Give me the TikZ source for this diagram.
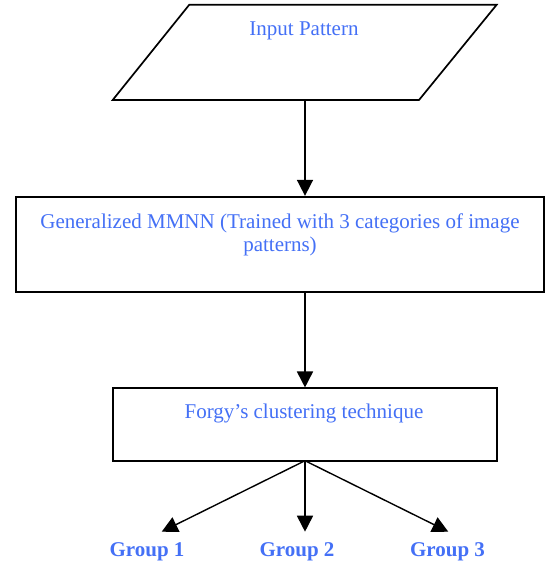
\documentclass[tikz,border=0pt]{standalone}
\usepackage{fontspec}
\setmainfont{Liberation Serif}
\usetikzlibrary{arrows.meta}
\definecolor{txtblue}{RGB}{68,112,246}
\tikzset{
  box/.style={draw=black, line width=1.7pt, fill=white, inner sep=0pt},
  lbl/.style={text=txtblue, font=\fontsize{21}{23.5}\selectfont, inner sep=0pt, anchor=base, align=center},
  glbl/.style={text=txtblue, font=\fontsize{21}{24}\selectfont\bfseries, inner sep=0pt, anchor=base},
  flow/.style={draw=black, line width=1.7pt, -{Triangle[length=16pt,width=16pt]}},
  split/.style={draw=black, line width=1.4pt, -{Triangle[length=16pt,width=16pt]}}
}
\begin{document}
\begin{tikzpicture}[x=1pt,y=-1pt]
\useasboundingbox (0,0) rectangle (547,566);
% Input parallelogram
\draw[line width=1.7pt] (189.3,4.7) -- (496.7,4.7) -- (419,100) -- (112.7,100) -- cycle;
\node[lbl] (input) at (304,35) {Input Pattern};
\coordinate (inbot) at (305,100);
% MMNN box
\node[box, minimum width=528pt, minimum height=95pt] (mmnn) at (280,244.2) {};
\node[lbl] (mmnntxt) at (280,251.5) {Generalized MMNN (Trained with 3 categories of image\\patterns)};
% Forgy box
\node[box, minimum width=384pt, minimum height=72.4pt] (forgy) at (304.7,424.5) {};
\node[lbl] (forgytxt) at (304,418) {Forgy’s clustering technique};
\coordinate (fsplit) at (305,460.7);
% groups
\node[glbl] (g1) at (147,556.5) {Group 1};
\node[glbl] (g2) at (297,556.5) {Group 2};
\node[glbl] (g3) at (447.5,556.5) {Group 3};
\coordinate (t1) at (161.7,531.7);
\coordinate (t2) at (305,531.7);
\coordinate (t3) at (448.3,531.7);
% connectors
\draw[flow] (inbot) -- (inbot |- mmnn.north);
\draw[flow] (inbot |- mmnn.south) -- (inbot |- forgy.north);
\draw[split] (fsplit) -- (t1);
\draw[flow] (fsplit) -- (t2);
\draw[split] (fsplit) -- (t3);
\end{tikzpicture}
\end{document}
